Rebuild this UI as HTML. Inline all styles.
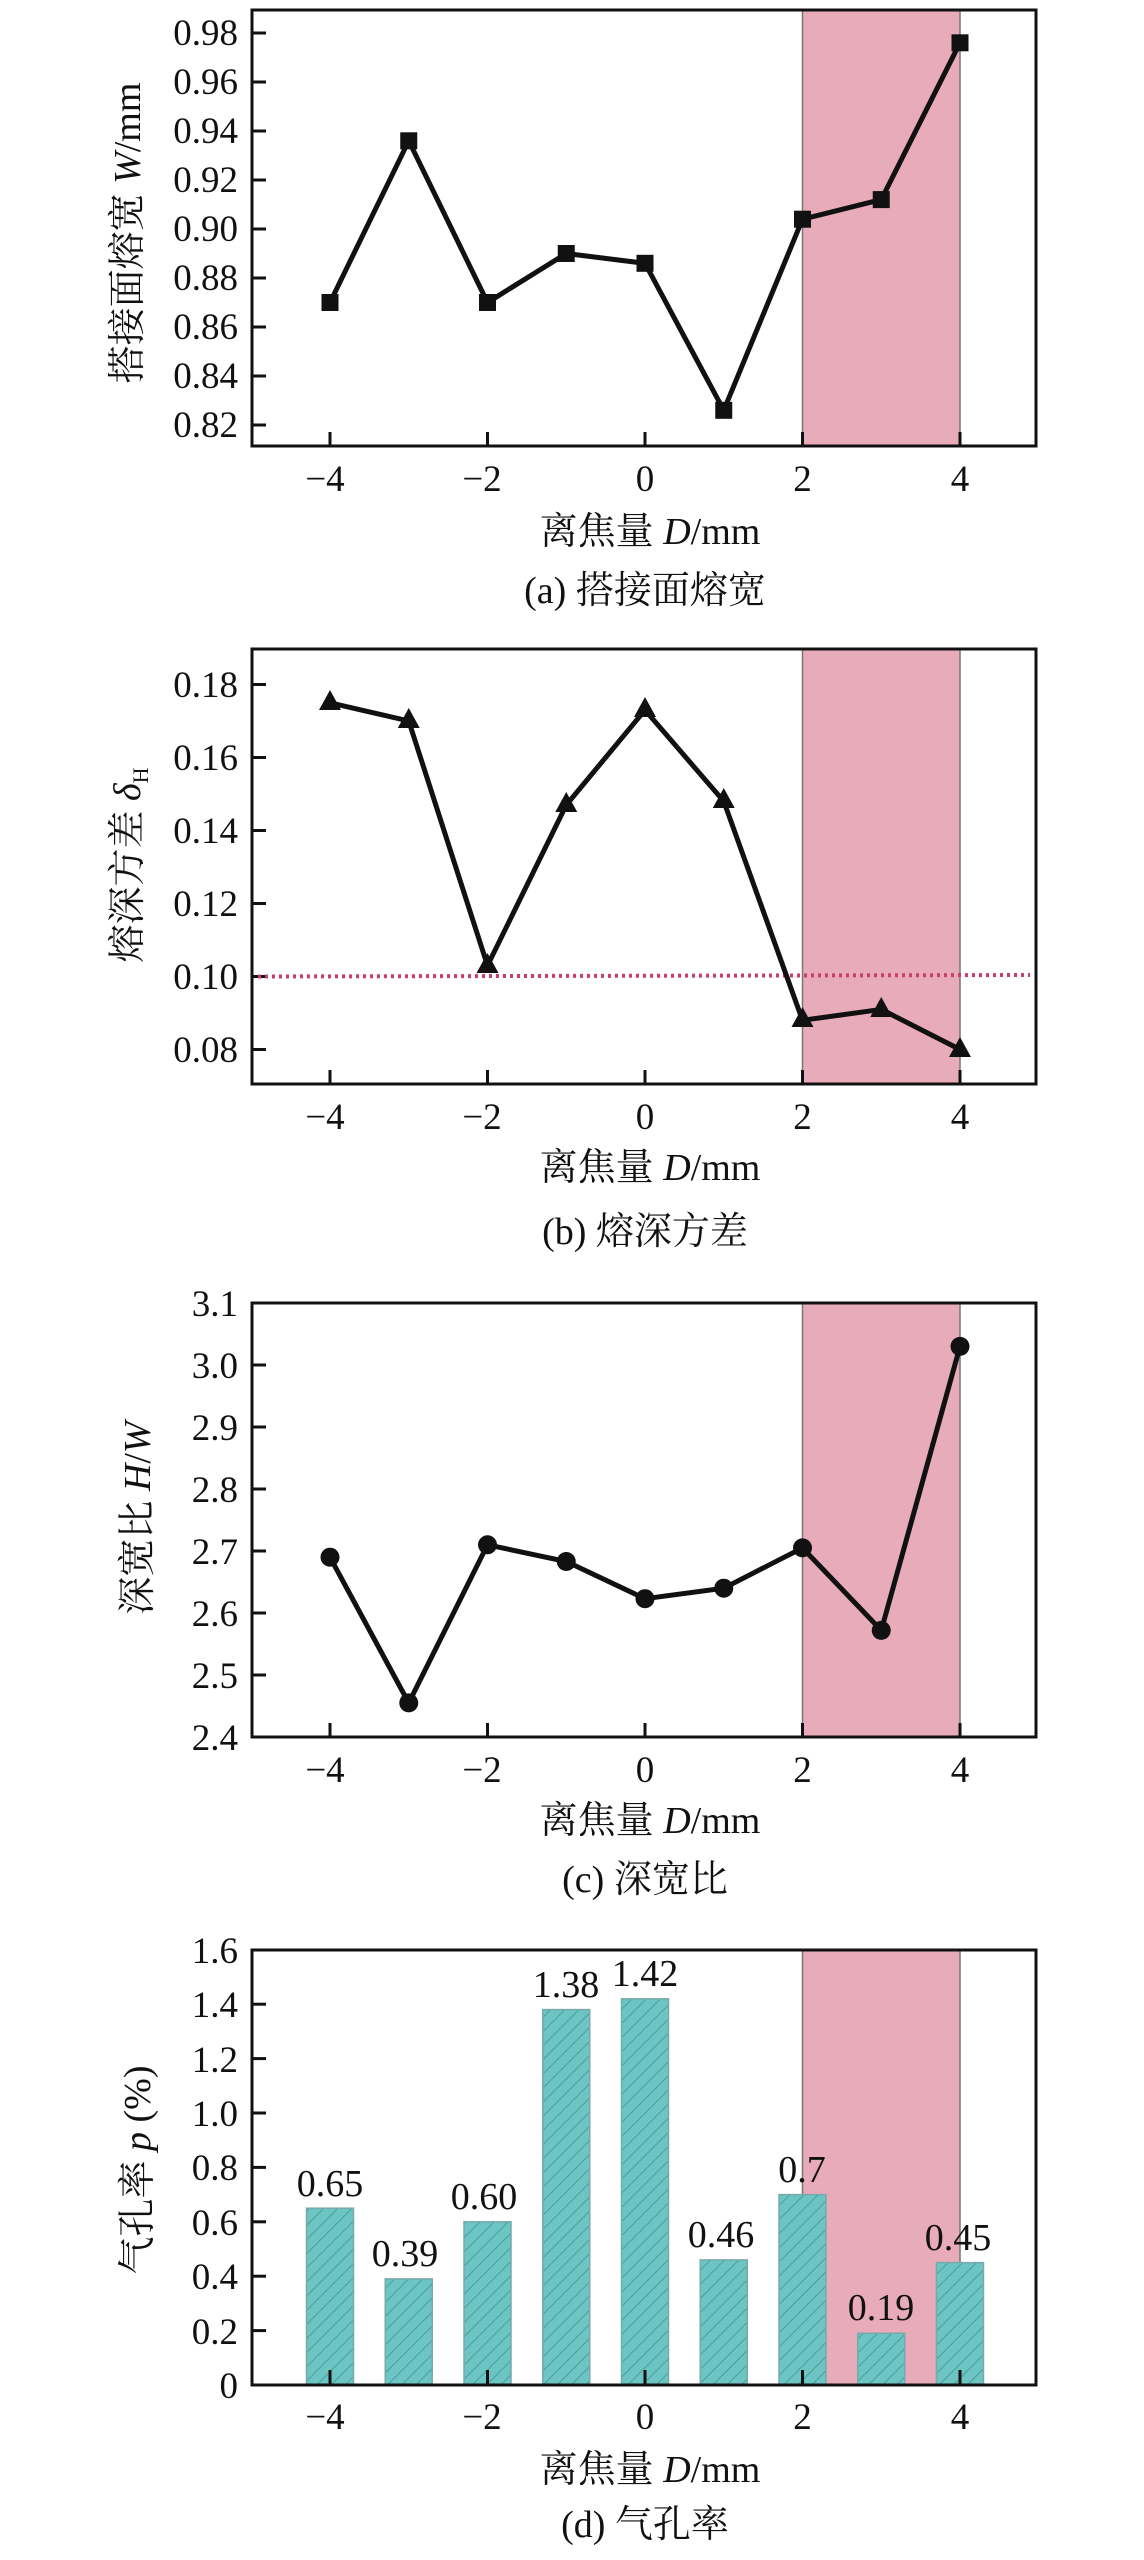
<!DOCTYPE html>
<html><head><meta charset="utf-8"><style>
html,body{margin:0;padding:0;background:#fff}
svg{display:block}
text{font-family:"Liberation Serif","Noto Serif CJK SC","Noto Sans CJK SC",serif;fill:#111}
.t{font-size:37px}
.l{font-size:38px}
</style></head><body>
<svg width="1144" height="2560" viewBox="0 0 1144 2560" xmlns="http://www.w3.org/2000/svg">
<defs>
<pattern id="h" patternUnits="userSpaceOnUse" width="10" height="10" patternTransform="rotate(45)">
<rect width="10" height="10" fill="#6cc4c3"/><line x1="0" y1="0" x2="0" y2="10" stroke="#3f9595" stroke-width="1.6"/>
</pattern>
</defs>

<!-- ===== Panel a ===== -->
<rect x="802.5" y="10" width="157.5" height="436" fill="#e8abb9" stroke="#777" stroke-width="1.5"/>
<rect x="252" y="10" width="784" height="436" fill="none" stroke="#111" stroke-width="3"/>
<g stroke="#111" stroke-width="3">
<line x1="252" y1="33" x2="266" y2="33"/><line x1="252" y1="82" x2="266" y2="82"/><line x1="252" y1="131" x2="266" y2="131"/><line x1="252" y1="180" x2="266" y2="180"/><line x1="252" y1="229" x2="266" y2="229"/><line x1="252" y1="278" x2="266" y2="278"/><line x1="252" y1="327" x2="266" y2="327"/><line x1="252" y1="376" x2="266" y2="376"/><line x1="252" y1="425" x2="266" y2="425"/>
<line x1="330" y1="446" x2="330" y2="432"/><line x1="487.5" y1="446" x2="487.5" y2="432"/><line x1="645" y1="446" x2="645" y2="432"/><line x1="802.5" y1="446" x2="802.5" y2="432"/><line x1="960" y1="446" x2="960" y2="432"/>
</g>
<g class="t" text-anchor="end">
<text x="238" y="45">0.98</text><text x="238" y="94">0.96</text><text x="238" y="143">0.94</text><text x="238" y="192">0.92</text><text x="238" y="241">0.90</text><text x="238" y="290">0.88</text><text x="238" y="339">0.86</text><text x="238" y="388">0.84</text><text x="238" y="437">0.82</text>
</g>
<g class="t" text-anchor="middle">
<text x="325" y="491">−4</text><text x="482" y="491">−2</text><text x="645" y="491">0</text><text x="802.5" y="491">2</text><text x="960" y="491">4</text>
</g>
<polyline points="330,302.5 408.75,140.8 487.5,302.5 566.25,253.5 645,263.3 723.75,410.3 802.5,219.2 881.25,199.6 960,42.8" fill="none" stroke="#111" stroke-width="5" stroke-linejoin="miter"/>
<g fill="#111">
<rect x="321.5" y="294" width="17" height="17"/><rect x="400.25" y="132.3" width="17" height="17"/><rect x="479" y="294" width="17" height="17"/><rect x="557.75" y="245" width="17" height="17"/><rect x="636.5" y="254.8" width="17" height="17"/><rect x="715.25" y="401.8" width="17" height="17"/><rect x="794" y="210.7" width="17" height="17"/><rect x="872.75" y="191.1" width="17" height="17"/><rect x="951.5" y="34.3" width="17" height="17"/>
</g>
<text class="l" transform="translate(140,233) rotate(-90)" text-anchor="middle">搭接面熔宽 <tspan font-style="italic">W</tspan>/mm</text>
<text class="l" x="650" y="544" text-anchor="middle">离焦量 <tspan font-style="italic">D</tspan>/mm</text>
<text class="l" x="645" y="603" text-anchor="middle">(a) 搭接面熔宽</text>

<!-- ===== Panel b ===== -->
<rect x="802.5" y="649" width="157.5" height="435" fill="#e8abb9" stroke="#777" stroke-width="1.5"/>
<rect x="252" y="649" width="784" height="435" fill="none" stroke="#111" stroke-width="3"/>
<g stroke="#111" stroke-width="3">
<line x1="252" y1="684.5" x2="266" y2="684.5"/><line x1="252" y1="757.5" x2="266" y2="757.5"/><line x1="252" y1="830.5" x2="266" y2="830.5"/><line x1="252" y1="903.5" x2="266" y2="903.5"/><line x1="252" y1="976.5" x2="266" y2="976.5"/><line x1="252" y1="1049.5" x2="266" y2="1049.5"/>
<line x1="330" y1="1084" x2="330" y2="1070"/><line x1="487.5" y1="1084" x2="487.5" y2="1070"/><line x1="645" y1="1084" x2="645" y2="1070"/><line x1="802.5" y1="1084" x2="802.5" y2="1070"/><line x1="960" y1="1084" x2="960" y2="1070"/>
</g>
<line x1="258" y1="976.5" x2="1030" y2="975" stroke="#c8406a" stroke-width="4" stroke-dasharray="3,4"/>
<g class="t" text-anchor="end">
<text x="238" y="697">0.18</text><text x="238" y="770">0.16</text><text x="238" y="843">0.14</text><text x="238" y="916">0.12</text><text x="238" y="989">0.10</text><text x="238" y="1062">0.08</text>
</g>
<g class="t" text-anchor="middle">
<text x="325" y="1129">−4</text><text x="482" y="1129">−2</text><text x="645" y="1129">0</text><text x="802.5" y="1129">2</text><text x="960" y="1129">4</text>
</g>
<polyline points="330,702.8 408.75,721 487.5,965.6 566.25,805 645,710 723.75,801.3 802.5,1020.3 881.25,1009.4 960,1049.5" fill="none" stroke="#111" stroke-width="5"/>
<g fill="#111">
<polygon points="330,690 319,710 341,710"/><polygon points="408.75,708 397.75,728 419.75,728"/><polygon points="487.5,953 476.5,973 498.5,973"/><polygon points="566.25,792 555.25,812 577.25,812"/><polygon points="645,697 634,717 656,717"/><polygon points="723.75,788 712.75,808 734.75,808"/><polygon points="802.5,1007 791.5,1027 813.5,1027"/><polygon points="881.25,997 870.25,1017 892.25,1017"/><polygon points="960,1037 949,1057 971,1057"/>
</g>
<text class="l" transform="translate(140,865) rotate(-90)" text-anchor="middle">熔深方差 <tspan font-style="italic">δ</tspan><tspan font-size="22" dy="8">H</tspan></text>
<text class="l" x="650" y="1180" text-anchor="middle">离焦量 <tspan font-style="italic">D</tspan>/mm</text>
<text class="l" x="645" y="1244" text-anchor="middle">(b) 熔深方差</text>

<!-- ===== Panel c ===== -->
<rect x="802.5" y="1303" width="157.5" height="434" fill="#e8abb9" stroke="#777" stroke-width="1.5"/>
<rect x="252" y="1303" width="784" height="434" fill="none" stroke="#111" stroke-width="3"/>
<g stroke="#111" stroke-width="3">
<line x1="252" y1="1365" x2="266" y2="1365"/><line x1="252" y1="1427" x2="266" y2="1427"/><line x1="252" y1="1489" x2="266" y2="1489"/><line x1="252" y1="1551" x2="266" y2="1551"/><line x1="252" y1="1613" x2="266" y2="1613"/><line x1="252" y1="1675" x2="266" y2="1675"/>
<line x1="330" y1="1737" x2="330" y2="1723"/><line x1="487.5" y1="1737" x2="487.5" y2="1723"/><line x1="645" y1="1737" x2="645" y2="1723"/><line x1="802.5" y1="1737" x2="802.5" y2="1723"/><line x1="960" y1="1737" x2="960" y2="1723"/>
</g>
<g class="t" text-anchor="end">
<text x="238" y="1316">3.1</text><text x="238" y="1378">3.0</text><text x="238" y="1440">2.9</text><text x="238" y="1502">2.8</text><text x="238" y="1564">2.7</text><text x="238" y="1626">2.6</text><text x="238" y="1688">2.5</text><text x="238" y="1750">2.4</text>
</g>
<g class="t" text-anchor="middle">
<text x="325" y="1782">−4</text><text x="482" y="1782">−2</text><text x="645" y="1782">0</text><text x="802.5" y="1782">2</text><text x="960" y="1782">4</text>
</g>
<polyline points="330,1557.2 408.75,1702.9 487.5,1544.8 566.25,1561.5 645,1598.7 723.75,1588.2 802.5,1547.9 881.25,1630.4 960,1346.4" fill="none" stroke="#111" stroke-width="5"/>
<g fill="#111">
<circle cx="330" cy="1557.2" r="9.5"/><circle cx="408.75" cy="1702.9" r="9.5"/><circle cx="487.5" cy="1544.8" r="9.5"/><circle cx="566.25" cy="1561.5" r="9.5"/><circle cx="645" cy="1598.7" r="9.5"/><circle cx="723.75" cy="1588.2" r="9.5"/><circle cx="802.5" cy="1547.9" r="9.5"/><circle cx="881.25" cy="1630.4" r="9.5"/><circle cx="960" cy="1346.4" r="9.5"/>
</g>
<text class="l" transform="translate(150,1518) rotate(-90)" text-anchor="middle">深宽比 <tspan font-style="italic">H</tspan>/<tspan font-style="italic">W</tspan></text>
<text class="l" x="650" y="1833" text-anchor="middle">离焦量 <tspan font-style="italic">D</tspan>/mm</text>
<text class="l" x="645" y="1892" text-anchor="middle">(c) 深宽比</text>

<!-- ===== Panel d ===== -->
<rect x="802.5" y="1950" width="157.5" height="435" fill="#e8abb9" stroke="#777" stroke-width="1.5"/>
<g fill="url(#h)" stroke="#7aa" stroke-width="1.5">
<rect x="306.5" y="2208.2" width="47" height="176.8"/><rect x="385.25" y="2278.9" width="47" height="106.1"/><rect x="464" y="2221.8" width="47" height="163.2"/><rect x="542.75" y="2009.6" width="47" height="375.4"/><rect x="621.5" y="1998.8" width="47" height="386.2"/><rect x="700.25" y="2259.9" width="47" height="125.1"/><rect x="779" y="2194.6" width="47" height="190.4"/><rect x="857.75" y="2333.3" width="47" height="51.7"/><rect x="936.5" y="2262.6" width="47" height="122.4"/>
</g>
<rect x="252" y="1950" width="784" height="435" fill="none" stroke="#111" stroke-width="3"/>
<line x1="252" y1="1950" x2="1036" y2="1950" stroke="#111" stroke-width="3"/>
<g stroke="#111" stroke-width="3">
<line x1="252" y1="2330.6" x2="266" y2="2330.6"/><line x1="252" y1="2276.2" x2="266" y2="2276.2"/><line x1="252" y1="2221.8" x2="266" y2="2221.8"/><line x1="252" y1="2167.4" x2="266" y2="2167.4"/><line x1="252" y1="2113" x2="266" y2="2113"/><line x1="252" y1="2058.6" x2="266" y2="2058.6"/><line x1="252" y1="2004.2" x2="266" y2="2004.2"/>
<line x1="330" y1="2385" x2="330" y2="2370"/><line x1="487.5" y1="2385" x2="487.5" y2="2370"/><line x1="645" y1="2385" x2="645" y2="2370"/><line x1="802.5" y1="2385" x2="802.5" y2="2370"/><line x1="960" y1="2385" x2="960" y2="2370"/>
</g>
<g class="t" text-anchor="end">
<text x="238" y="1963">1.6</text><text x="238" y="2017">1.4</text><text x="238" y="2072">1.2</text><text x="238" y="2126">1.0</text><text x="238" y="2180">0.8</text><text x="238" y="2235">0.6</text><text x="238" y="2289">0.4</text><text x="238" y="2344">0.2</text><text x="238" y="2398">0</text>
</g>
<g class="t" text-anchor="middle">
<text x="325" y="2429">−4</text><text x="482" y="2429">−2</text><text x="645" y="2429">0</text><text x="802.5" y="2429">2</text><text x="960" y="2429">4</text>
</g>
<g class="l" text-anchor="middle">
<text x="330" y="2196">0.65</text><text x="405" y="2266">0.39</text><text x="484" y="2209">0.60</text><text x="566" y="1997">1.38</text><text x="645" y="1986">1.42</text><text x="721" y="2247">0.46</text><text x="802" y="2182">0.7</text><text x="881" y="2320">0.19</text><text x="958" y="2250">0.45</text>
</g>
<text class="l" transform="translate(150,2170) rotate(-90)" text-anchor="middle">气孔率 <tspan font-style="italic">p</tspan> (%)</text>
<text class="l" x="650" y="2482" text-anchor="middle">离焦量 <tspan font-style="italic">D</tspan>/mm</text>
<text class="l" x="645" y="2537" text-anchor="middle">(d) 气孔率</text>
</svg>
</body></html>
